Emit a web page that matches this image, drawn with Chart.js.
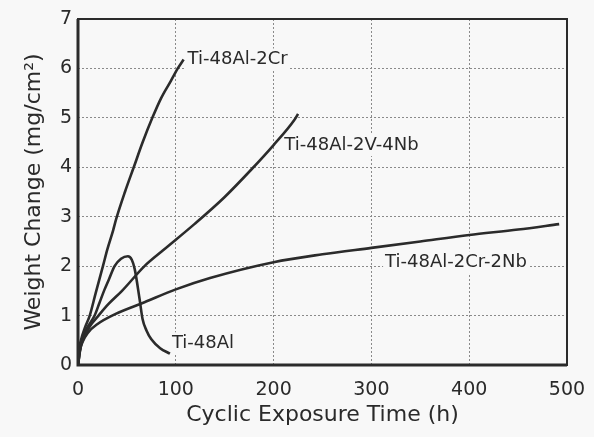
<!DOCTYPE html>
<html>
<head>
<meta charset="utf-8">
<script src="https://cdn.jsdelivr.net/npm/chart.js@4/dist/chart.umd.min.js"></script>
<style>
  html, body { margin: 0; padding: 0; background: #f8f8f8; }
  canvas { display: block; }
</style>
</head>
<body>
<canvas id="c" width="594" height="437"></canvas>
<script>
// ---- data ----
const xTicks = [0, 100, 200, 300, 400, 500];
const yTicks = [0, 1, 2, 3, 4, 5, 6, 7];

const seriesNames = ["Ti-48Al-2Cr", "Ti-48Al-2V-4Nb", "Ti-48Al-2Cr-2Nb", "Ti-48Al"];

const crX   = [0, 1, 3, 7, 12, 18, 25.5, 30, 36, 39, 48, 57, 66, 76, 85, 95, 102, 108];
const crY   = [0, 0.3, 0.5, 0.75, 1.0, 1.45, 2.0, 2.34, 2.73, 2.95, 3.5, 4.0, 4.5, 5.0, 5.4, 5.75, 6.0, 6.18];

const vnbX  = [0, 2, 6, 12, 21, 31, 45, 68, 87, 119, 150, 177, 200, 221, 225];
const vnbY  = [0, 0.3, 0.55, 0.78, 1.0, 1.23, 1.5, 2.0, 2.32, 2.85, 3.4, 3.95, 4.45, 4.95, 5.08];

const crnbX = [0, 2, 5, 10, 20, 38, 68, 100, 135, 200, 250, 300, 350, 400, 450, 492];
const crnbY = [0, 0.3, 0.48, 0.65, 0.83, 1.03, 1.27, 1.53, 1.76, 2.08, 2.24, 2.37, 2.5, 2.63, 2.74, 2.85];

const alX   = [0, 3, 8, 17, 22, 27, 32, 37.4, 44, 51, 55, 58, 63, 66, 70, 75, 84, 94];
const alY   = [0, 0.4, 0.7, 1.0, 1.26, 1.52, 1.75, 2.0, 2.15, 2.2, 2.13, 1.94, 1.33, 0.93, 0.7, 0.52, 0.34, 0.23];

// curve label anchors (data units: left edge x, vertical centre y)
const labelX = [112, 211, 314, 96];
const labelY = [6.18, 4.45, 2.08, 0.44];

// ---- build chart ----
const pts = (xs, ys) => xs.map((x, i) => ({ x: x, y: ys[i] }));
const lineColor = '#2b2b2b';
const textColor = '#2a2a2a';
const bg = '#f8f8f8';

function ds(name, xs, ys) {
  return {
    label: name,
    data: pts(xs, ys),
    borderColor: lineColor,
    borderWidth: 2.6,
    pointRadius: 0,
    fill: false,
    showLine: true,
    cubicInterpolationMode: 'monotone'
  };
}

const boxPlugin = {
  id: 'box',
  afterDatasetsDraw(chart) {
    const a = chart.chartArea, ctx = chart.ctx;
    ctx.save();
    ctx.strokeStyle = '#2b2b2b';
    ctx.lineWidth = 2;
    ctx.strokeRect(a.left, a.top, a.right - a.left, a.bottom - a.top);
    ctx.lineWidth = 3;
    ctx.beginPath();
    ctx.moveTo(a.left, a.top);
    ctx.lineTo(a.left, a.bottom);
    ctx.lineTo(a.right, a.bottom);
    ctx.stroke();
    ctx.restore();
  }
};

const labelPlugin = {
  id: 'curveLabels',
  beforeDatasetsDraw(chart) {
    const ctx = chart.ctx, xs = chart.scales.x, ys = chart.scales.y;
    ctx.save();
    ctx.font = '18px "DejaVu Sans"';
    ctx.textBaseline = 'middle';
    ctx.textAlign = 'left';
    seriesNames.forEach((name, i) => {
      const px = xs.getPixelForValue(labelX[i]);
      const py = ys.getPixelForValue(labelY[i]);
      const w = ctx.measureText(name).width;
      ctx.fillStyle = bg;
      ctx.fillRect(px - 2, py - 11, w + 4, 22);
      ctx.fillStyle = textColor;
      ctx.fillText(name, px, py);
    });
    ctx.restore();
  }
};

new Chart(document.getElementById('c'), {
  type: 'scatter',
  data: {
    datasets: [
      ds(seriesNames[0], crX, crY),
      ds(seriesNames[1], vnbX, vnbY),
      ds(seriesNames[2], crnbX, crnbY),
      ds(seriesNames[3], alX, alY)
    ]
  },
  options: {
    responsive: false,
    animation: false,
    layout: { padding: { top: 19, right: 27, left: 0, bottom: 0 } },
    plugins: { legend: { display: false }, tooltip: { enabled: false } },
    scales: {
      x: {
        type: 'linear',
        min: 0, max: 500,
        afterBuildTicks(s) { s.ticks = xTicks.map(v => ({ value: v })); },
        afterFit(s) { s.height = 72; s.paddingRight = 0; s.paddingLeft = 0; },
        grid: { color: '#8a8a8a', lineWidth: 1, drawTicks: false },
        border: { display: false, dash: [2, 2] },
        ticks: { color: textColor, font: { family: 'DejaVu Sans', size: 19 }, padding: 14, maxRotation: 0 },
        title: { display: true, text: 'Cyclic Exposure Time (h)', color: textColor,
                 font: { family: 'DejaVu Sans', size: 22 }, padding: 9 }
      },
      y: {
        type: 'linear',
        min: 0, max: 7,
        afterBuildTicks(s) { s.ticks = yTicks.map(v => ({ value: v })); },
        afterFit(s) { s.width = 78; s.paddingTop = 0; s.paddingBottom = 0; },
        grid: { color: '#8a8a8a', lineWidth: 1, drawTicks: false },
        border: { display: false, dash: [2, 2] },
        ticks: { color: textColor, font: { family: 'DejaVu Sans', size: 19 }, padding: 6 },
        title: { display: true, text: 'Weight Change (mg/cm²)', color: textColor,
                 font: { family: 'DejaVu Sans', size: 22 }, padding: 21 }
      }
    }
  },
  plugins: [boxPlugin, labelPlugin]
});
</script>
</body>
</html>
